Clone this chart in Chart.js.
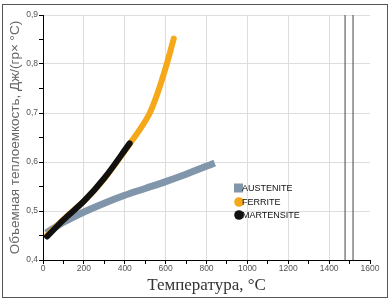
<!DOCTYPE html>
<html>
<head>
<meta charset="utf-8">
<script src="https://cdn.jsdelivr.net/npm/chart.js@4.4.1/dist/chart.umd.min.js"></script>
<style>
  body { margin:0; background:#fff; }
  #wrap { position:relative; width:392px; height:302px; }
  #marco { position:absolute; left:2px; top:4px; width:384px; height:292px; border:1px solid #555; }
  canvas { position:absolute; left:0; top:0; }
</style>
</head>
<body>
<div id="wrap">
  <div id="marco"></div>
  <canvas id="grafico" width="392" height="302"></canvas>
</div>
<script>
// datos
const tempAustenita = [15, 100, 200, 300, 400, 500, 600, 700, 840];
const cAustenita    = [0.455, 0.477, 0.498, 0.516, 0.532, 0.546, 0.56, 0.575, 0.598];
const tempFerrita   = [20, 100, 200, 300, 424, 470, 520, 560, 600, 640];
const cFerrita      = [0.45, 0.483, 0.52, 0.566, 0.637, 0.664, 0.698, 0.740, 0.792, 0.852];
const tempMartensita = [20, 100, 200, 300, 424];
const cMartensita    = [0.448, 0.482, 0.52, 0.567, 0.638];
const lineasVert = [1478, 1517];
const yMin = 0.4, yMax = 0.9;
const etiquetas = ["AUSTENITE", "FERRITE", "MARTENSITE"];

function puntos(xs, ys){
        return xs.map((x, i) => ({x: x, y: ys[i]}));
}

const datasets = [
  { label: etiquetas[0], data: puntos(tempAustenita, cAustenita), borderColor:'#8196aa', backgroundColor:'#8196aa',
    borderWidth:7, borderCapStyle:'butt', order:3 },
  { label: etiquetas[1], data: puntos(tempFerrita, cFerrita), borderColor:'#f5a818', backgroundColor:'#f5a818',
    borderWidth:6, borderCapStyle:'round', order:2 },
  { label: etiquetas[2], data: puntos(tempMartensita, cMartensita), borderColor:'#111', backgroundColor:'#111',
    borderWidth:6, borderCapStyle:'round', order:1 }
];
lineasVert.forEach(t => {
  datasets.push({ label:'', data:[{x:t, y:yMin}, {x:t, y:yMax}], borderColor:'#444', borderWidth:1, order:4, tension:0 });
});

// leyenda dentro del area
const leyenda = {
  id:'leyenda',
  afterDraw(chart){
    const ctx = chart.ctx;
    const filas = [188, 202, 215];
    ctx.save();
    ctx.font = '9px "Liberation Sans", Arial, sans-serif';
    ctx.textBaseline = 'middle';
    for(let i=0;i<3;i++){
      const ds = chart.data.datasets[i];
      ctx.fillStyle = ds.borderColor;
      if(i==0){ ctx.fillRect(234, filas[i]-4.5, 9, 9); }
      else { ctx.beginPath(); ctx.arc(239, filas[i], 4.8, 0, Math.PI*2); ctx.fill(); }
      ctx.fillStyle = '#111';
      ctx.fillText(ds.label, 242, filas[i]+0.5);
    }
    ctx.restore();
  }
};

new Chart(document.getElementById('grafico'), {
  type:'line',
  data:{ datasets: datasets },
  options:{
    responsive:false,
    animation:false,
    layout:{ padding:{ left:0, top:15, right:22, bottom:0 } },
    elements:{ point:{ radius:0 }, line:{ tension:0.35 } },
    plugins:{ legend:{ display:false }, tooltip:{ enabled:false } },
    scales:{
      x:{
        type:'linear', min:0, max:1600,
        afterFit(s){ s.height = 42; },
        border:{ color:'#000', width:1 },
        grid:{
          color: c => (c.tick && c.tick.value % 200 == 0 && c.tick.value < 1600) ? '#dedede' : 'rgba(0,0,0,0)',
          tickColor:'#000', tickLength:4
        },
        ticks:{ stepSize:100, padding:0, color:'#555', maxRotation:0, autoSkip:false,
          font:{ family:'"Liberation Sans", Arial, sans-serif', size:8.5 },
          callback: v => (v % 200 == 0) ? String(v) : '' },
        title:{ display:true, text:'Температура, °C', color:'#333',
          font:{ family:'"Liberation Serif", "Times New Roman", serif', size:17 },
          padding:{ top:0, bottom:6 } }
      },
      y:{
        type:'linear', min:yMin, max:yMax,
        afterFit(s){ s.width = 43; },
        border:{ color:'#000', width:1 },
        grid:{
          color: c => (c.tick && Math.round(c.tick.value*100) % 10 == 0) ? '#dedede' : 'rgba(0,0,0,0)',
          tickColor:'#000', tickLength:4
        },
        ticks:{ stepSize:0.05, padding:1, color:'#555', autoSkip:false,
          font:{ family:'"Liberation Sans", Arial, sans-serif', size:8.5 },
          callback: v => (Math.round(v*100) % 10 == 0) ? v.toFixed(1).replace('.', ',') : '' },
        title:{ display:true, text:'Объемная теплоемкость, Дж/(гр× °C)', color:'#666',
          font:{ family:'"Liberation Sans", Arial, sans-serif', size:13.5 },
          padding:{ top:7, bottom:0 } }
      }
    }
  },
  plugins:[leyenda]
});
</script>
</body>
</html>
